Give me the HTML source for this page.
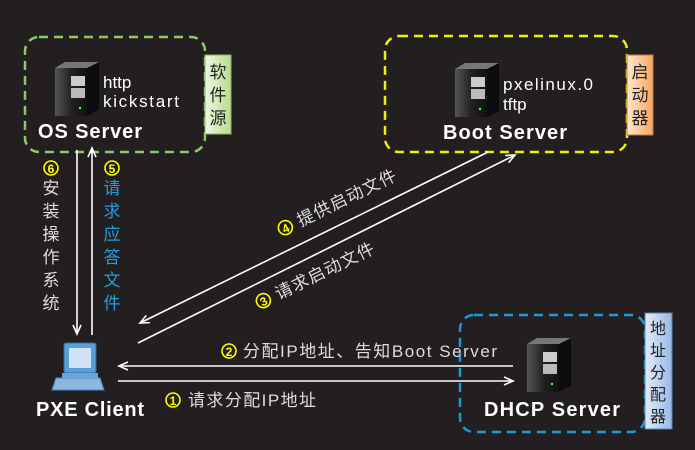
<!DOCTYPE html>
<html><head><meta charset="utf-8"><style>
html,body{margin:0;padding:0;background:#231f20;}
svg{display:block;}
text{font-family:"Liberation Sans","Noto Sans CJK SC",sans-serif;}
</style></head><body>
<svg width="695" height="450" viewBox="0 0 695 450" xmlns="http://www.w3.org/2000/svg">
<defs>
<linearGradient id="srv" x1="0" y1="0" x2="1" y2="0"><stop offset="0" stop-color="#555"/><stop offset="0.5" stop-color="#222"/><stop offset="1" stop-color="#111"/></linearGradient>
<linearGradient id="gt" x1="0" y1="0" x2="1" y2="0"><stop offset="0" stop-color="#eef8e0"/><stop offset="1" stop-color="#b7dc8e"/></linearGradient>
<linearGradient id="ot" x1="0" y1="0" x2="1" y2="0"><stop offset="0" stop-color="#ffe6cf"/><stop offset="1" stop-color="#f8a862"/></linearGradient>
<linearGradient id="bt" x1="0" y1="0" x2="1" y2="0"><stop offset="0" stop-color="#e2ecfa"/><stop offset="1" stop-color="#98b8e6"/></linearGradient>
<marker id="ah" markerWidth="12" markerHeight="10" refX="10" refY="5" orient="auto" markerUnits="userSpaceOnUse"><path d="M1,1 L10,5 L1,9" fill="none" stroke="#fff" stroke-width="1.6"/></marker>
<g id="server">
<path d="M0,6 L10,0 L44,0 L44,48 L32,54 L0,48 Z" fill="#0c0c0c"/>
<path d="M0,6 L10,0 L44,0 L32,6 Z" fill="#777"/>
<rect x="0" y="6" width="32" height="48" fill="url(#srv)"/>
<rect x="16" y="14" width="14" height="10" fill="#ccc"/>
<rect x="16" y="26" width="14" height="10" fill="#bbb"/>
<circle cx="25" cy="46" r="1.2" fill="#4f4"/>
</g>
</defs>

<!-- OS server box -->
<rect x="25" y="37" width="180" height="115" rx="14" fill="none" stroke="#8cc76a" stroke-width="2.5" stroke-dasharray="9,6"/>
<rect x="205" y="55" width="26" height="79" fill="url(#gt)" stroke="#8bb070"/>
<text x="218" y="78" font-size="17" fill="#222" text-anchor="middle">软</text>
<text x="218" y="101" font-size="17" fill="#222" text-anchor="middle">件</text>
<text x="218" y="124" font-size="17" fill="#222" text-anchor="middle">源</text>
<use href="#server" x="55" y="62"/>
<text x="103" y="88" font-size="17" fill="#fff">http</text>
<text x="103" y="107" font-size="17" fill="#fff" textLength="76">kickstart</text>
<text x="38" y="138" font-size="20" font-weight="bold" fill="#fff" textLength="104">OS Server</text>

<!-- Boot server box -->
<rect x="385" y="36" width="242" height="116" rx="14" fill="none" stroke="#f0f000" stroke-width="2.5" stroke-dasharray="9,6"/>
<rect x="627" y="55" width="26" height="80" fill="url(#ot)" stroke="#c07a40"/>
<text x="640" y="78" font-size="17" fill="#222" text-anchor="middle">启</text>
<text x="640" y="101" font-size="17" fill="#222" text-anchor="middle">动</text>
<text x="640" y="124" font-size="17" fill="#222" text-anchor="middle">器</text>
<use href="#server" x="455" y="63"/>
<text x="503" y="90" font-size="17" fill="#fff" textLength="90">pxelinux.0</text>
<text x="503" y="110" font-size="17" fill="#fff">tftp</text>
<text x="443" y="139" font-size="20" font-weight="bold" fill="#fff" textLength="124">Boot Server</text>

<!-- DHCP box -->
<rect x="460" y="315" width="185" height="117" rx="14" fill="none" stroke="#1a9ad6" stroke-width="2.5" stroke-dasharray="9,6"/>
<rect x="645" y="313" width="27" height="116" fill="url(#bt)" stroke="#5a7fb0"/>
<text x="658" y="334" font-size="16" fill="#222" text-anchor="middle">地</text>
<text x="658" y="356" font-size="16" fill="#222" text-anchor="middle">址</text>
<text x="658" y="378" font-size="16" fill="#222" text-anchor="middle">分</text>
<text x="658" y="400" font-size="16" fill="#222" text-anchor="middle">配</text>
<text x="658" y="422" font-size="16" fill="#222" text-anchor="middle">器</text>
<use href="#server" x="527" y="338"/>
<text x="484" y="416" font-size="20" font-weight="bold" fill="#fff" textLength="136">DHCP Server</text>

<!-- PXE client -->
<g>
<rect x="64" y="343" width="32" height="30" rx="2" fill="#5aa0d8" stroke="#2e6ea8"/>
<rect x="69" y="348" width="22" height="20" fill="#cfe3f5"/>
<path d="M56,378 L100,378 L104,390 L52,390 Z" fill="#8ab8e0" stroke="#4a86be"/>
<rect x="62" y="373" width="36" height="5" fill="#6aa6da"/>
</g>
<text x="36" y="416" font-size="20" font-weight="bold" fill="#fff" textLength="108">PXE Client</text>

<!-- vertical arrows -->
<line x1="77" y1="150" x2="77" y2="334" stroke="#fff" stroke-width="1.6" marker-end="url(#ah)"/>
<line x1="92" y1="335" x2="92" y2="148" stroke="#fff" stroke-width="1.6" marker-end="url(#ah)"/>
<circle cx="51" cy="168" r="7" fill="none" stroke="#ff0" stroke-width="1.6"/><text x="51" y="173" font-size="12" font-weight="bold" fill="#ff0" text-anchor="middle">6</text>
<g font-size="17" fill="#ddd" text-anchor="middle">
<text x="51" y="194">安</text><text x="51" y="217">装</text><text x="51" y="240">操</text><text x="51" y="263">作</text><text x="51" y="286">系</text><text x="51" y="309">统</text>
</g>
<circle cx="112" cy="168" r="7" fill="none" stroke="#ff0" stroke-width="1.6"/><text x="112" y="173" font-size="12" font-weight="bold" fill="#ff0" text-anchor="middle">5</text>
<g font-size="17" fill="#1ea0dc" text-anchor="middle">
<text x="112" y="194">请</text><text x="112" y="217">求</text><text x="112" y="240">应</text><text x="112" y="263">答</text><text x="112" y="286">文</text><text x="112" y="309">件</text>
</g>

<!-- diagonal arrows -->
<line x1="488" y1="152" x2="140" y2="323" stroke="#fff" stroke-width="1.6" marker-end="url(#ah)"/>
<line x1="138" y1="343" x2="515" y2="155" stroke="#fff" stroke-width="1.6" marker-end="url(#ah)"/>
<g transform="translate(288,233) rotate(-26)">
<circle cx="0" cy="-6" r="7" fill="none" stroke="#ff0" stroke-width="1.6"/><text x="0" y="-1" font-size="12" font-weight="bold" fill="#ff0" text-anchor="middle">4</text>
<text x="14" y="0" font-size="17" fill="#ddd" textLength="108">提供启动文件</text>
</g>
<g transform="translate(266,306) rotate(-26)">
<circle cx="0" cy="-6" r="7" fill="none" stroke="#ff0" stroke-width="1.6"/><text x="0" y="-1" font-size="12" font-weight="bold" fill="#ff0" text-anchor="middle">3</text>
<text x="14" y="0" font-size="17" fill="#ddd" textLength="108">请求启动文件</text>
</g>

<!-- horizontal arrows -->
<line x1="513" y1="366" x2="119" y2="366" stroke="#fff" stroke-width="1.6" marker-end="url(#ah)"/>
<line x1="118" y1="381" x2="513" y2="381" stroke="#fff" stroke-width="1.6" marker-end="url(#ah)"/>
<circle cx="229" cy="351" r="7" fill="none" stroke="#ff0" stroke-width="1.6"/><text x="229" y="356" font-size="12" font-weight="bold" fill="#ff0" text-anchor="middle">2</text>
<text x="243" y="357" font-size="17" fill="#ddd" textLength="254">分配IP地址、告知Boot  Server</text>
<circle cx="173" cy="400" r="7" fill="none" stroke="#ff0" stroke-width="1.6"/><text x="173" y="405" font-size="12" font-weight="bold" fill="#ff0" text-anchor="middle">1</text>
<text x="188" y="406" font-size="17" fill="#ddd" textLength="128">请求分配IP地址</text>
</svg>
</body></html>
